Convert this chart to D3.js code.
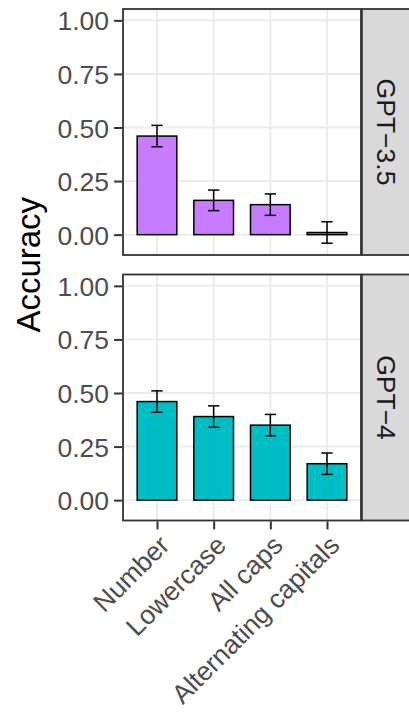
<!DOCTYPE html>
<html>
<head>
<meta charset="utf-8">
<script src="https://cdn.jsdelivr.net/npm/d3@7/dist/d3.min.js"></script>
<style>
  html, body { margin: 0; padding: 0; background: #ffffff; }
  svg { display: block; }
  text { font-family: "Liberation Sans", Arial, Helvetica, sans-serif; }
</style>
</head>
<body>
<svg id="chart" width="409" height="719"></svg>
<script>
// ---- data ----
const categories = ["Number", "Lowercase", "All caps", "Alternating capitals"];
const models = ["GPT−3.5", "GPT−4"];
const gpt35Accuracy = [0.46, 0.16, 0.14, 0.01];
const gpt35Error = [0.05, 0.048, 0.05, 0.05];
const gpt4Accuracy = [0.46, 0.39, 0.35, 0.17];
const gpt4Error = [0.05, 0.05, 0.05, 0.05];
const yTicks = [0, 0.25, 0.5, 0.75, 1.0];
const modelColors = ["#C77CFF", "#00BFC4"];
const yTitle = "Accuracy";

const seriesAcc = [gpt35Accuracy, gpt4Accuracy];
const seriesErr = [gpt35Error, gpt4Error];

// ---- layout ----
const svg = d3.select("#chart");
const panelLeft = 123, panelRight = 361;
const panelTops = [9, 274.5];
const panelH = 246;
const stripW = 50;

const x = d3.scalePoint().domain(categories).range([panelLeft, panelRight]).padding(0.6);
const step = x.step();
const barW = step * 0.7;
const capW = step * 0.2;

models.forEach((m, i) => {
  const top = panelTops[i];
  const y = d3.scaleLinear().domain([-0.095, 1.053]).range([top + panelH, top]);
  const g = svg.append("g");

  // panel background
  g.append("rect").attr("x", panelLeft).attr("y", top)
    .attr("width", panelRight - panelLeft).attr("height", panelH).attr("fill", "#ffffff");

  // gridlines
  g.selectAll(".hg").data(yTicks).join("line")
    .attr("x1", panelLeft).attr("x2", panelRight)
    .attr("y1", d => y(d)).attr("y2", d => y(d))
    .attr("stroke", "#EBEBEB").attr("stroke-width", 2);
  g.selectAll(".vg").data(categories).join("line")
    .attr("x1", d => x(d)).attr("x2", d => x(d))
    .attr("y1", top).attr("y2", top + panelH)
    .attr("stroke", "#EBEBEB").attr("stroke-width", 2);

  const rows = categories.map((c, j) => ({ c, v: seriesAcc[i][j], e: seriesErr[i][j] }));

  // bars
  g.selectAll(".bar").data(rows).join("rect")
    .attr("x", d => x(d.c) - barW / 2)
    .attr("width", barW)
    .attr("y", d => Math.min(y(d.v), y(0)))
    .attr("height", d => Math.abs(y(0) - y(d.v)))
    .attr("fill", modelColors[i])
    .attr("stroke", "#000000").attr("stroke-width", 1.5);

  // error bars
  const eb = g.selectAll(".eb").data(rows).join("g");
  eb.append("line")
    .attr("x1", d => x(d.c)).attr("x2", d => x(d.c))
    .attr("y1", d => y(d.v + d.e)).attr("y2", d => y(d.v - d.e))
    .attr("stroke", "#000").attr("stroke-width", 1.5);
  eb.append("line")
    .attr("x1", d => x(d.c) - capW / 2).attr("x2", d => x(d.c) + capW / 2)
    .attr("y1", d => y(d.v + d.e)).attr("y2", d => y(d.v + d.e))
    .attr("stroke", "#000").attr("stroke-width", 1.5);
  eb.append("line")
    .attr("x1", d => x(d.c) - capW / 2).attr("x2", d => x(d.c) + capW / 2)
    .attr("y1", d => y(d.v - d.e)).attr("y2", d => y(d.v - d.e))
    .attr("stroke", "#000").attr("stroke-width", 1.5);

  // panel border
  g.append("rect").attr("x", panelLeft).attr("y", top)
    .attr("width", panelRight - panelLeft).attr("height", panelH)
    .attr("fill", "none").attr("stroke", "#333333").attr("stroke-width", 1.8);

  // y axis
  const ya = g.append("g").attr("transform", `translate(${panelLeft - 0.9},0)`)
    .call(d3.axisLeft(y).tickValues(yTicks).tickFormat(d3.format(".2f")).tickSize(8).tickPadding(5));
  ya.select(".domain").remove();
  ya.selectAll(".tick line").attr("stroke", "#333333").attr("stroke-width", 2);
  ya.selectAll(".tick text").attr("fill", "#4D4D4D").style("font-size", "26.5px").attr("dy", "0.36em");

  // strip
  g.append("rect").attr("x", panelRight + 0.9).attr("y", top)
    .attr("width", stripW).attr("height", panelH)
    .attr("fill", "#D9D9D9").attr("stroke", "#333333").attr("stroke-width", 1.8);
  g.append("text")
    .attr("transform", `translate(${panelRight + 0.9 + 25},${top + panelH / 2}) rotate(90)`)
    .attr("text-anchor", "middle").attr("dy", "0.36em")
    .attr("fill", "#1A1A1A").style("font-size", "26.5px")
    .text(m);

  // x axis on bottom panel
  if (i === models.length - 1) {
    const xa = g.append("g").attr("transform", `translate(0,${top + panelH + 0.9})`)
      .call(d3.axisBottom(x).tickSize(8).tickPadding(4));
    xa.select(".domain").remove();
    xa.selectAll(".tick line").attr("stroke", "#333333").attr("stroke-width", 2);
    xa.selectAll(".tick text")
      .attr("fill", "#4D4D4D").style("font-size", "26.5px")
      .attr("text-anchor", "end")
      .attr("y", 0).attr("dy", "0.72em")
      .attr("transform", "translate(0,12) rotate(-45)");
  }
});

// y axis title
svg.append("text")
  .attr("transform", `translate(40,${(panelTops[0] + panelTops[1] + panelH) / 2}) rotate(-90)`)
  .attr("text-anchor", "middle")
  .attr("fill", "#000000").style("font-size", "33px")
  .text(yTitle);
</script>
</body>
</html>
